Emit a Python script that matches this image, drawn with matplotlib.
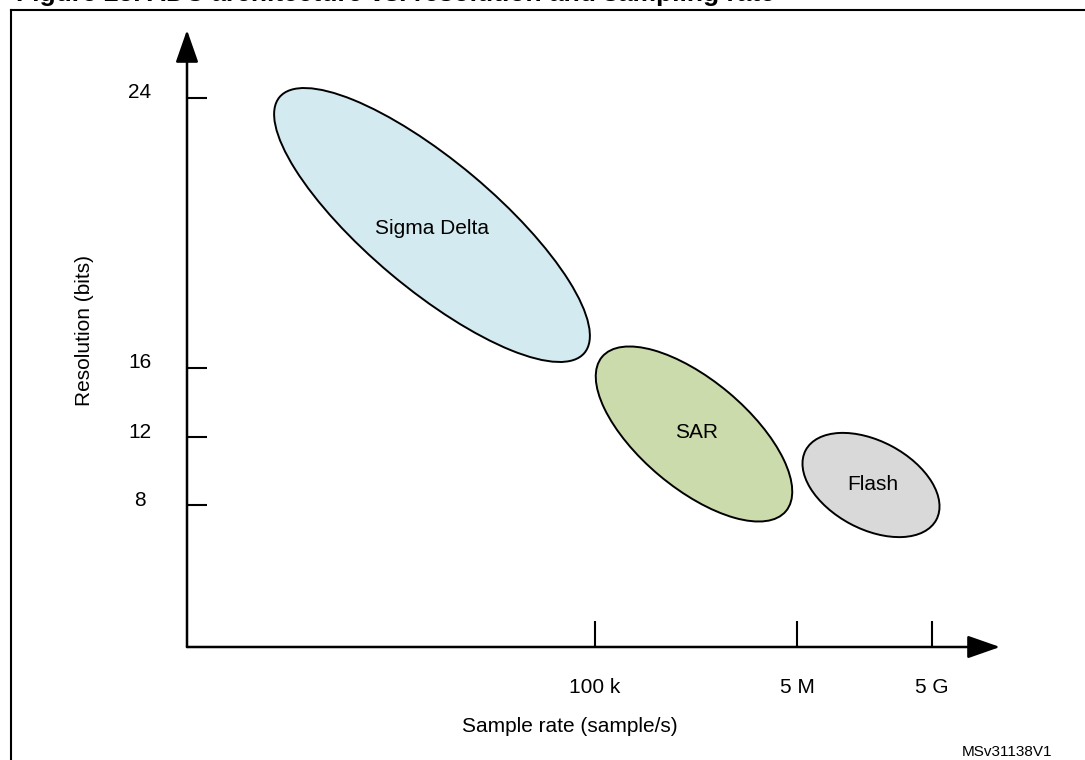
import matplotlib
matplotlib.use("Agg")
import matplotlib.pyplot as plt
from matplotlib.patches import Ellipse
from matplotlib.lines import Line2D
from matplotlib.transforms import ScaledTranslation

plt.rcParams['font.family'] = ['Liberation Sans', 'DejaVu Sans']

# schematic axis positions (1 unit ~ 100 px), tick labels
x_tick_pos = [4.08, 6.10, 7.45]
x_tick_labels = ['100 k', '5 M', '5 G']
y_tick_pos = [5.49, 2.79, 2.10, 1.42]
y_tick_labels = ['24', '16', '12', '8']

# ADC architecture regions
arch_names = ['Sigma Delta', 'SAR', 'Flash']
arch_cx = [2.45, 5.07, 6.84]
arch_cy = [4.22, 2.13, 1.62]
arch_w = [3.98, 2.40, 1.48]
arch_h = [1.28, 1.08, 0.88]
arch_angle = [-40, -40, -28]
arch_colors = ['#D3EAF0', '#CCDBAB', '#D9D9D9']
label_x = [2.45, 5.10, 6.86]
label_y = [4.18, 2.14, 1.62]

W, H = 1085, 760
fig = plt.figure(figsize=(W / 100, H / 100), dpi=100)

# figure caption (cut off at the top in the original, only its bottom shows)
fig.text(16 / W, 1 - 1 / H, 'Figure 25. ADC architecture vs. resolution and sampling rate',
         fontsize=19, fontweight='bold', va='baseline', ha='left')

# frame around the figure
fig.add_artist(Line2D([11 / W, 11 / W], [0, 1 - 9.5 / H], transform=fig.transFigure,
                      color='black', lw=1.5))
fig.add_artist(Line2D([11 / W, 1], [1 - 9.5 / H, 1 - 9.5 / H], transform=fig.transFigure,
                      color='black', lw=1.5))

x0, x1 = 187, 1000
y0, y1 = 647, 30
ax = fig.add_axes([x0 / W, 1 - y0 / H, (x1 - x0) / W, (y0 - y1) / H])
ax.set_xlim(0, 8.13)
ax.set_ylim(0, 6.17)
for s in ax.spines.values():
    s.set_visible(False)
ax.patch.set_alpha(0)

# axes with arrow heads
arrow = dict(arrowstyle='-|>,head_length=1.0,head_width=0.35', mutation_scale=20,
             lw=1.8, color='black', shrinkA=0, shrinkB=0)
ax.annotate('', xy=(8.13, 0), xytext=(0, 0), arrowprops=arrow, annotation_clip=False)
ax.annotate('', xy=(0, 6.17), xytext=(0, 0), arrowprops=arrow, annotation_clip=False)

ax.set_xticks(x_tick_pos, x_tick_labels)
ax.set_yticks(y_tick_pos, y_tick_labels)
ax.tick_params(axis='x', direction='in', length=18.5, width=1.5, pad=22, labelsize=15)
ax.tick_params(axis='y', direction='in', length=14.5, width=1.5, pad=34, labelsize=15)
for lab in ax.get_yticklabels():
    lab.set_horizontalalignment('center')
    lab.set_transform(lab.get_transform() + ScaledTranslation(0, 0.07, fig.dpi_scale_trans))

for i in range(len(arch_names)):
    e = Ellipse((arch_cx[i], arch_cy[i]), arch_w[i], arch_h[i], angle=arch_angle[i],
                facecolor=arch_colors[i], edgecolor='black', lw=1.4)
    ax.add_patch(e)
    ax.text(label_x[i], label_y[i], arch_names[i], ha='center', va='center', fontsize=15)

fig.text(570 / W, 1 - 727 / H, 'Sample rate (sample/s)', ha='center', va='center', fontsize=15)
fig.text(85 / W, 1 - 330 / H, 'Resolution (bits)', ha='center', va='center', rotation=90,
         fontsize=15)
fig.text(1007 / W, 1 - 752 / H, 'MSv31138V1', ha='center', va='center', fontsize=11)

fig.savefig('out.png', dpi=100)
